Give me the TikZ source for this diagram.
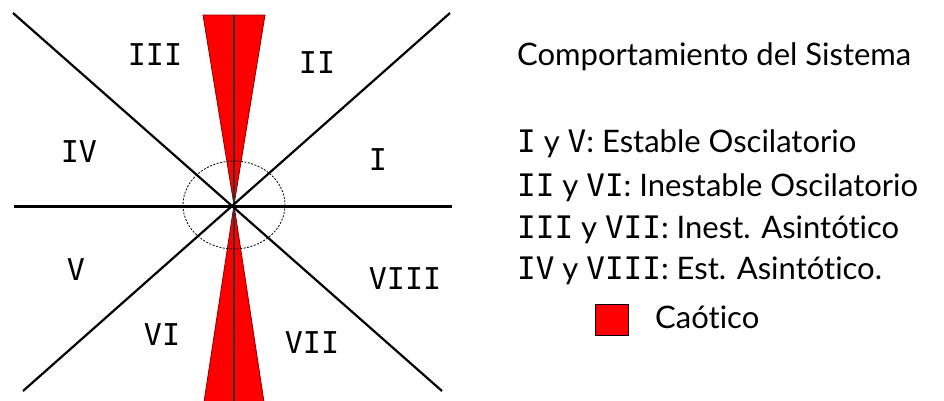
\documentclass[tikz,border=0pt]{standalone}
\usepackage{fontspec}
\setmainfont{Lato}[Ligatures=NoCommon]
\newfontfamily\numfont{DejaVu Sans Mono}
\begin{document}
\begin{tikzpicture}[x=1pt,y=-1pt]
\tikzset{
  axisline/.style={black, line width=3pt},
  diagline/.style={black, line width=2.2pt},
  midline/.style={black!80, line width=1.2pt},
  wedge/.style={fill=red, draw=red!55!black, line width=0.8pt},
  region/.style={font=\numfont\fontsize{30}{30}\selectfont, text=black, inner sep=0pt},
  legend/.style={anchor=base west, font=\fontsize{31}{34}\selectfont, inner sep=0pt, text=black},
  keybox/.style={fill=red, draw=black, line width=0.9pt},
}
\fill[white] (0,0) rectangle (944,400);
\useasboundingbox (0,0) rectangle (944,400);
\coordinate (O) at (234,205);
\coordinate (TL) at (203,15);
\coordinate (TR) at (265,15);
\coordinate (BL) at (204,402);
\coordinate (BR) at (264,402);
\coordinate (VT) at (234,15);
\coordinate (VB) at (234,402);
\coordinate (HL) at (14,206);
\coordinate (HR) at (452,206);
\coordinate (D1a) at (13,13);
\coordinate (D1b) at (442,391);
\coordinate (D2a) at (450,13);
\coordinate (D2b) at (23,391);
% chaotic wedges
\filldraw[wedge] (TL) -- (TR) -- (O) -- cycle;
\filldraw[wedge] (O) -- (BR) -- (BL) -- cycle;
\draw[midline] (VT) -- (VB);
% axes
\draw[diagline] (D1a) -- (D1b);
\draw[diagline] (D2a) -- (D2b);
\draw[axisline] (HL) -- (HR);
\draw[black, line width=0.8pt, dash pattern=on 2pt off 1.5pt] (O) ellipse [x radius=51, y radius=44];
% region labels
\node[region] (r3) at (155,55) {III};
\node[region] (r2) at (317,63) {II};
\node[region] (r4) at (79,152) {IV};
\node[region] (r1) at (378,160) {I};
\node[region] (r5) at (76,270) {V};
\node[region] (r8) at (405,279) {VIII};
\node[region] (r6) at (162,335) {VI};
\node[region] (r7) at (312,343) {VII};
% legend
\node[legend] (title) at (517,65) {Comportamiento del Sistema};
\node[legend] (l1) at (517,152) {{\numfont I} y {\numfont V}: Estable Oscilatorio};
\node[legend] (l2) at (517,196) {{\numfont II} y {\numfont VI}: Inestable Oscilatorio};
\node[legend] (l3) at (517,238) {{\numfont III} y {\numfont VII}: Inest. Asintótico};
\node[legend] (l4) at (517,279) {{\numfont IV} y {\numfont VIII}: Est. Asintótico.};
\filldraw[keybox] (595,304) rectangle (628,335);
\node[legend] (l5) at (655,328) {Caótico};
\end{tikzpicture}
\end{document}
